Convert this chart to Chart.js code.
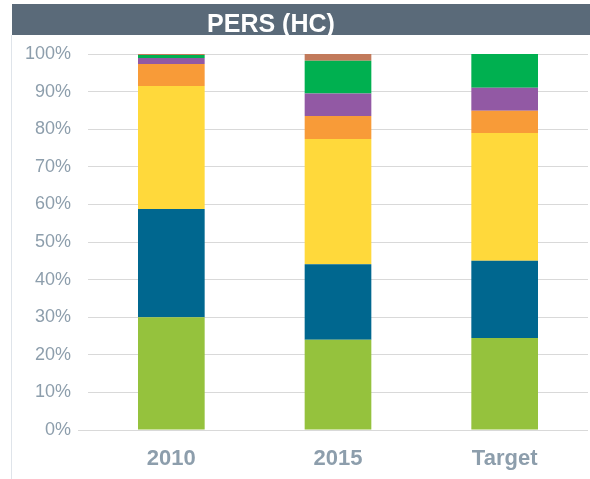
<!DOCTYPE html>
<html>
<head>
<meta charset="utf-8">
<script src="https://cdn.jsdelivr.net/npm/chart.js@4"></script>
<style>
  html, body { margin: 0; padding: 0; background: #fff; }
  #wrap { position: relative; width: 590px; height: 479px; overflow: hidden; }
  #titulo {
    position: absolute; left: 12px; top: 4px; width: 578px; height: 31px;
    background: #5a6a79; color: #fff;
    font: bold 25px "Liberation Sans", Arial, sans-serif;
    line-height: 31px; text-align: center; padding: 4px 60px 0 0; box-sizing: border-box;
  }
  #borde { position: absolute; left: 11px; top: 35px; width: 1px; height: 444px; background: #dfe4ea; }
  canvas { position: absolute; left: 0; top: 0; }
</style>
</head>
<body>
<div id="wrap">
  <canvas id="barChart" width="590" height="479"></canvas>
  <div id="titulo">PERS (HC)</div>
  <div id="borde"></div>
</div>
<script>
// datos (porcentaje de cada segmento, de abajo hacia arriba)
var categorias = ['2010', '2015', 'Target'];
var serie1 = [30.0, 24.0, 24.5];
var serie2 = [28.8, 20.1, 20.5];
var serie3 = [32.7, 33.3, 34.0];
var serie4 = [5.85, 6.1, 5.9];
var serie5 = [1.6, 6.0, 6.1];
var serie6 = [0.8, 8.7, 9.0];
var serie7 = [0.25, 1.8, 0];
var ticksY = [0, 10, 20, 30, 40, 50, 60, 70, 80, 90, 100];

// paleta
var colores = ['#95c23d', '#00678f', '#ffd93b', '#f89b38', '#9259a4', '#00b050', '#c27a5b'];
var series = [serie1, serie2, serie3, serie4, serie5, serie6, serie7];

var colorTexto = '#8d9eac';
var colorGrilla = '#d9d9d9';
var fuente = '"Liberation Sans", Arial, sans-serif';

var ctxBar = document.getElementById('barChart').getContext('2d');
var barChart = new Chart(ctxBar, {
  type: 'bar',
  data: {
    labels: categorias,
    datasets: series.map(function (s, i) {
      return {
        label: 'Serie ' + (i + 1),
        data: s,
        backgroundColor: colores[i],
        borderWidth: 0,
        barPercentage: 0.4,
        categoryPercentage: 1
      };
    })
  },
  options: {
    responsive: false,
    animation: false,
    layout: { padding: { top: 54, left: 21, right: 2, bottom: 7 } },
    plugins: {
      legend: { display: false },
      tooltip: { enabled: false },
      title: { display: false }
    },
    scales: {
      x: {
        stacked: true,
        grid: { display: false, drawTicks: false },
        border: { display: false },
        afterFit: function (axis) { axis.height = 42; },
        ticks: {
          color: colorTexto,
          padding: 16,
          font: { family: fuente, size: 22, weight: 'bold' }
        }
      },
      y: {
        stacked: true,
        min: 0,
        max: 100,
        afterBuildTicks: function (axis) {
          axis.ticks = ticksY.map(function (v) { return { value: v }; });
        },
        afterFit: function (axis) { axis.width = 67; },
        grid: {
          color: colorGrilla,
          lineWidth: 1,
          tickLength: 10,
          drawTicks: true,
          // solo la linea del 0% se prolonga hacia la izquierda
          tickColor: function (c) { return c.tick && c.tick.value === 0 ? colorGrilla : 'rgba(0,0,0,0)'; }
        },
        border: { display: false },
        ticks: {
          color: colorTexto,
          padding: 7,
          font: { family: fuente, size: 18 },
          callback: function (v) { return v + '%'; }
        }
      }
    }
  }
});
</script>
</body>
</html>
